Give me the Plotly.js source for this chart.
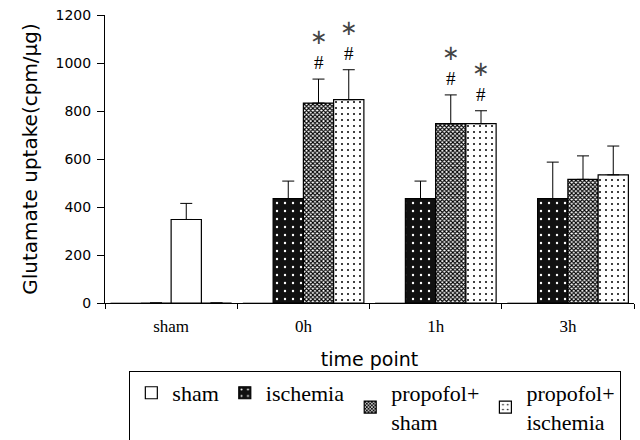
<!DOCTYPE html>
<html>
<head>
<meta charset="utf-8">
<script src="https://cdn.plot.ly/plotly-3.0.1.min.js"></script>
<style>html,body{margin:0;padding:0;background:#fff;}#chart{width:640px;height:440px;}</style>
</head>
<body>
<div id="chart"></div>
<script>
// ---- data ----
var categories = ['sham', '0h', '1h', '3h'];
var shamMean = [348, null, null, null];
var shamErr = [67, null, null, null];
var ischemiaMean = [0, 435, 435, 435];
var ischemiaErr = [0, 73, 73, 152];
var propSham = [null, 833, 747, 515];
var propShamErr = [null, 100, 120, 98];
var propIsch = [0, 847, 747, 534];
var propIschErr = [0, 125, 54, 120];
var emptySeries = [0, 0, 0, 0];
// significance marks (* and #)
var propShamSig = [false, true, true, false];
var propIschSig = [false, true, true, false];

var BARGAP = 0.085;
var NSLOTS = 4;
function slotOffset(k) {
  var w = (1 - BARGAP) / NSLOTS;
  return -(1 - BARGAP) / 2 + (k + 0.5) * w;
}

var line = {color: '#000', width: 1.2};
function errY(arr) {
  return {type: 'data', symmetric: false, array: arr,
          arrayminus: arr.map(function () { return 0; }),
          color: '#000', thickness: 1, width: 6};
}

var traces = [
  {type: 'bar', x: categories, y: emptySeries, offsetgroup: 'g1', alignmentgroup: 'A',
   showlegend: false, hoverinfo: 'skip',
   marker: {color: '#fff', line: {color: '#999', width: 1}}},
  {type: 'bar', name: 'ischemia', x: categories, y: ischemiaMean, offsetgroup: 'g2', alignmentgroup: 'A',
   legendrank: 2, error_y: errY(ischemiaErr),
   marker: {color: '#111', line: line,
            pattern: {shape: '.', fgcolor: '#fff', bgcolor: '#111', size: 8, solidity: 0.07}}},
  {type: 'bar', name: 'sham', x: categories, y: shamMean, offsetgroup: 'g3', alignmentgroup: 'A',
   legendrank: 1, error_y: errY(shamErr),
   marker: {color: '#fff', line: line}},
  {type: 'bar', name: 'propofol+<br>sham', x: categories, y: propSham, offsetgroup: 'g3', alignmentgroup: 'A',
   legendrank: 3, error_y: errY(propShamErr),
   marker: {color: '#fff', line: line,
            pattern: {shape: 'x', fgcolor: '#000', bgcolor: '#fff', size: 3, solidity: 0.6}}},
  {type: 'bar', name: 'propofol+<br>ischemia', x: categories, y: propIsch, offsetgroup: 'g4', alignmentgroup: 'A',
   legendrank: 4, error_y: errY(propIschErr),
   marker: {color: '#fff', line: line,
            pattern: {shape: '.', fgcolor: '#000', bgcolor: '#fff', size: 6, solidity: 0.09}}}
];

var annotations = [];
function addMarks(means, errs, sig, slot) {
  for (var i = 0; i < categories.length; i++) {
    if (!sig[i]) continue;
    annotations.push({xref: 'x', yref: 'y', x: i + slotOffset(slot), y: means[i] + errs[i],
      yanchor: 'bottom', yshift: 4, showarrow: false, align: 'center',
      text: '<span style="font-family:DejaVu Sans;font-size:21px;fill:#444">∗</span><br>#',
      font: {family: 'Liberation Serif', size: 19, color: '#000'}});
  }
}
addMarks(propSham, propShamErr, propShamSig, 2);
addMarks(propIsch, propIschErr, propIschSig, 3);

var layout = {
  width: 640, height: 440,
  margin: {l: 105, r: 6, t: 15, b: 137, autoexpand: false},
  paper_bgcolor: '#fff', plot_bgcolor: '#fff',
  barmode: 'group', bargap: BARGAP, bargroupgap: 0,
  showlegend: true,
  font: {family: 'DejaVu Sans', color: '#000'},
  xaxis: {
    type: 'category', showline: true, linecolor: '#000', linewidth: 1,
    ticks: 'outside', tickson: 'boundaries', ticklen: 5, tickcolor: '#000',
    showgrid: false, zeroline: false, ticklabelstandoff: 8, automargin: false,
    tickfont: {family: 'Liberation Serif', size: 17, color: '#000'},
    title: {text: 'time point', font: {family: 'DejaVu Sans', size: 19, color: '#000'}, standoff: 17}
  },
  yaxis: {
    range: [0, 1200], dtick: 200, showline: true, linecolor: '#000', linewidth: 1,
    ticks: 'outside', ticklen: 7, tickcolor: '#000', showgrid: false, zeroline: false,
    automargin: false,
    tickfont: {family: 'DejaVu Sans', size: 14, color: '#000'}, ticklabelstandoff: 3,
    title: {text: 'Glutamate uptake(cpm/μg)', font: {family: 'DejaVu Sans', size: 20, color: '#000'}, standoff: 12}
  },
  legend: {
    orientation: 'h', x: 0.046, xanchor: 'left', y: -0.236, yanchor: 'top',
    bordercolor: '#000', borderwidth: 1, bgcolor: '#fff', valign: 'middle', itemwidth: 32,
    font: {family: 'Liberation Serif', size: 22, color: '#000'}
  },
  annotations: annotations
};

Plotly.newPlot('chart', traces, layout, {displayModeBar: false, staticPlot: true});
</script>
</body>
</html>
